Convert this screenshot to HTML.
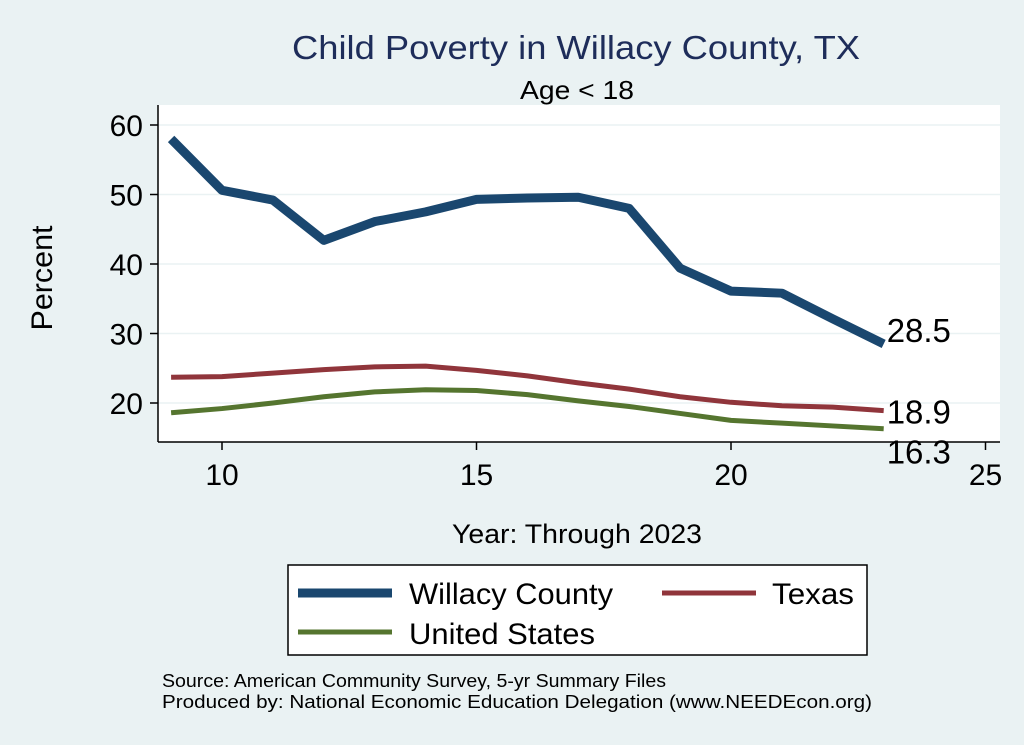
<!DOCTYPE html>
<html><head><meta charset="utf-8"><style>
body{margin:0;background:#eaf2f3;}
svg{display:block;font-family:"Liberation Sans",Arial,sans-serif;}
</style></head><body>
<svg id="chart" width="1024" height="745" viewBox="0 0 1024 745">
<rect x="0" y="0" width="1024" height="745" fill="#eaf2f3"/>
<rect x="158" y="105" width="842" height="337" fill="#ffffff"/>
<text x="292" y="59" font-size="33" fill="#1e2d5a" textLength="568" lengthAdjust="spacingAndGlyphs">Child Poverty in Willacy County, TX</text>
<text x="520" y="99" font-size="26" fill="#000" textLength="114" lengthAdjust="spacingAndGlyphs">Age &lt; 18</text>
<g id="grid"></g>
<g id="axes"></g>
<g id="series"></g>
<text x="52" y="278" font-size="30" text-anchor="middle" transform="rotate(-90 52 278)" textLength="105" lengthAdjust="spacingAndGlyphs">Percent</text>
<text x="452" y="543" font-size="27" textLength="250" lengthAdjust="spacingAndGlyphs">Year: Through 2023</text>
<g>
<rect x="288" y="565" width="579" height="90" fill="#fff" stroke="#000" stroke-width="1.5"/>
<g><line x1="298" y1="593" x2="392" y2="593" stroke="#1a476f" stroke-width="9"/><text x="409" y="604" font-size="30" textLength="204" lengthAdjust="spacingAndGlyphs">Willacy County</text></g>
<g><line x1="662" y1="593" x2="756" y2="593" stroke="#90353b" stroke-width="5"/><text x="772" y="604" font-size="30" textLength="82" lengthAdjust="spacingAndGlyphs">Texas</text></g>
<g><line x1="298" y1="632" x2="392" y2="632" stroke="#55752f" stroke-width="5"/><text x="409" y="644" font-size="30" textLength="186" lengthAdjust="spacingAndGlyphs">United States</text></g>
</g>
<text x="162" y="687" font-size="18" textLength="504" lengthAdjust="spacingAndGlyphs">Source: American Community Survey, 5-yr Summary Files</text>
<text x="162" y="708" font-size="18" textLength="710" lengthAdjust="spacingAndGlyphs">Produced by: National Economic Education Delegation (www.NEEDEcon.org)</text>
</svg>
<script>
const years=[9,10,11,12,13,14,15,16,17,18,19,20,21,22,23];
const willacy=[58.0,50.6,49.2,43.4,46.1,47.5,49.3,49.5,49.6,48.0,39.4,36.1,35.8,32.1,28.5];
const texas=[23.7,23.8,24.3,24.8,25.2,25.3,24.7,23.9,22.9,22.0,20.9,20.1,19.6,19.4,18.9];
const us=[18.6,19.2,20.0,20.9,21.6,21.9,21.8,21.2,20.3,19.5,18.5,17.5,17.1,16.7,16.3];
const yTicks=[20,30,40,50,60];
const xTicks=[10,15,20,25];
const NS="http://www.w3.org/2000/svg";
function xs(v){return 222+(v-10)*50.9;}
function ys(v){return 403-(v-20)*6.95;}
function mk(tag,attrs,parent,text){const e=document.createElementNS(NS,tag);for(const k in attrs)e.setAttribute(k,attrs[k]);if(text!==undefined)e.textContent=text;parent.appendChild(e);return e;}
const grid=document.getElementById('grid'),axes=document.getElementById('axes'),ser=document.getElementById('series');
yTicks.forEach(t=>{
 const g=mk('line',{x1:158,x2:1000,y1:ys(t),y2:ys(t),stroke:'#eaf2f3','stroke-width':1.5},grid);
 
 
 const tk=mk('line',{x1:150,x2:158,y1:ys(t),y2:ys(t),stroke:'#000','stroke-width':1.5},axes);
 
 
 const lb=mk('text',{x:143,y:ys(t)+11,'font-size':30,'text-anchor':'end'},axes,t);
 
 
});
xTicks.forEach(t=>{
 const tk=mk('line',{x1:xs(t),x2:xs(t),y1:442,y2:450,stroke:'#000','stroke-width':1.5},axes);
 
 
 const lb=mk('text',{x:xs(t),y:485,'font-size':30,'text-anchor':'middle'},axes,t);
 
 
});
const ya=mk('line',{x1:158,x2:158,y1:105,y2:442,stroke:'#000','stroke-width':1.5},axes);


const xa=mk('line',{x1:158,x2:1000,y1:442,y2:442,stroke:'#000','stroke-width':1.5},axes);


function draw(vals,color,w,name,dy){
 const pts=years.map((y,i)=>xs(y)+','+ys(vals[i])).join(' ');
 const p=mk('polyline',{points:pts,fill:'none',stroke:color,'stroke-width':w,'stroke-linejoin':'round'},ser);
 
 
 const n=vals.length-1;
 const l=mk('text',{x:xs(years[n])+3,y:ys(vals[n])+dy,'font-size':33},ser,vals[n].toFixed(1));
 
 
}
draw(us,'#55752f',5,'us',35);
draw(texas,'#90353b',5,'texas',13);
draw(willacy,'#1a476f',9,'willacy',-2);
</script>
</body></html>
